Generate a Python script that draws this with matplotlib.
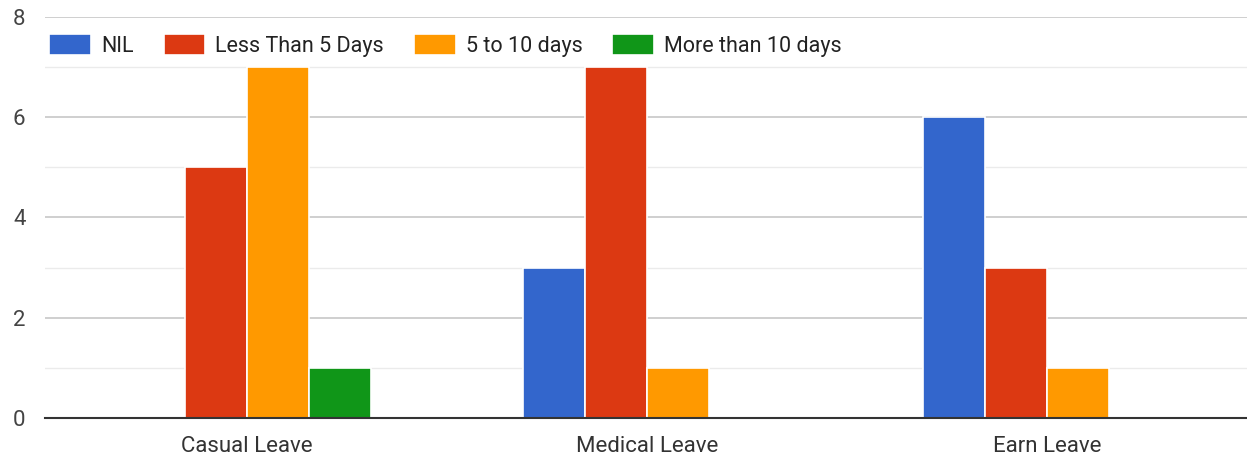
import matplotlib.pyplot as plt
import numpy as np

categories = ['Casual Leave', 'Medical Leave', 'Earn Leave']
series = ['NIL', 'Less Than 5 Days', '5 to 10 days', 'More than 10 days']
nil = [0, 3, 6]
less_5 = [5, 7, 3]
five_10 = [7, 1, 1]
more_10 = [1, 0, 0]
colors = ['#3366cc', '#dc3912', '#ff9900', '#109618']

plt.rcParams['font.family'] = ['Roboto', 'DejaVu Sans']

fig = plt.figure(figsize=(12.47, 4.61), dpi=100)
ax = fig.add_axes([0.036, 0.0933, 0.964, 0.87])

x = np.arange(len(categories))
w = 0.155
for i, (vals, c) in enumerate(zip([nil, less_5, five_10, more_10], colors)):
    ax.bar(x + (i - 1.5) * w, vals, w, color=c, edgecolor='white',
           linewidth=1.2, label=series[i], zorder=3)

ax.set_xlim(-0.505, 2.5)
ax.set_ylim(0, 8)
ax.set_yticks([0, 2, 4, 6, 8])
ax.set_yticks([1, 3, 5, 7], minor=True)
ax.grid(axis='y', which='major', color='#cccccc', linewidth=1.3, zorder=0)
ax.grid(axis='y', which='minor', color='#ebebeb', linewidth=1.0, zorder=0)
ax.tick_params(axis='y', which='both', length=0, labelsize=16, labelcolor='#444444', pad=14)
ax.set_xticks(x)
ax.set_xticklabels(categories)
ax.tick_params(axis='x', length=0, labelsize=16, labelcolor='#333333', pad=13)
for s in ['top', 'right', 'left']:
    ax.spines[s].set_visible(False)
ax.spines['bottom'].set_color('#333333')
ax.spines['bottom'].set_linewidth(1.5)
ax.spines['bottom'].set_zorder(4)

leg = ax.legend(loc='upper left', bbox_to_anchor=(0.0, 0.968), ncol=4, frameon=True,
                fontsize=15.5, handlelength=1.95, handleheight=1.1, columnspacing=1.4,
                handletextpad=0.45, borderaxespad=0, borderpad=0.2,
                facecolor='white', edgecolor='none', framealpha=1)
for t in leg.get_texts():
    t.set_color('#222222')

plt.savefig('out.png')
